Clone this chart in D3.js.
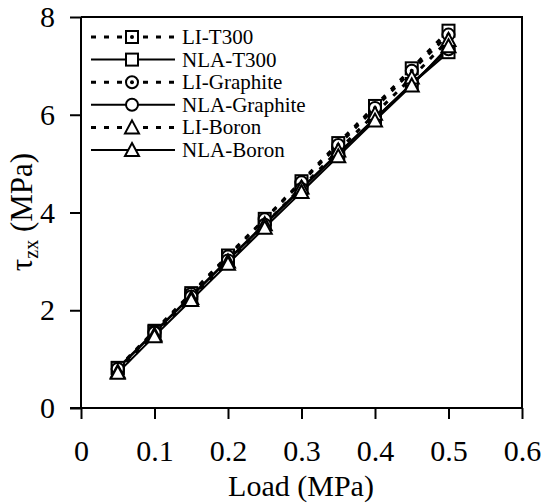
<!DOCTYPE html>
<html>
<head>
<meta charset="utf-8">
<script src="https://cdn.jsdelivr.net/npm/d3@7"></script>
<style>
  body { margin: 0; background: #fff; }
  text { font-family: "Liberation Serif", "DejaVu Serif", serif; fill: #000; }
</style>
</head>
<body>
<svg width="544" height="503"></svg>
<script>
// data
var loads = [0.05, 0.1, 0.15, 0.2, 0.25, 0.3, 0.35, 0.4, 0.45, 0.5]
var liT300 = [0.82, 1.58, 2.35, 3.12, 3.87, 4.64, 5.42, 6.18, 6.95, 7.72]
var nlaT300 = [0.82, 1.56, 2.30, 3.04, 3.77, 4.50, 5.22, 5.93, 6.63, 7.28]
var liGraphite = [0.80, 1.56, 2.33, 3.10, 3.86, 4.62, 5.38, 6.14, 6.90, 7.64]
var nlaGraphite = [0.80, 1.54, 2.28, 3.02, 3.75, 4.48, 5.20, 5.92, 6.64, 7.34]
var liBoron = [0.74, 1.50, 2.25, 3.00, 3.76, 4.51, 5.27, 6.02, 6.76, 7.53]
var nlaBoron = [0.72, 1.47, 2.21, 2.95, 3.69, 4.42, 5.15, 5.88, 6.60, 7.40]
var seriesNames = ['LI-T300', 'NLA-T300', 'LI-Graphite', 'NLA-Graphite', 'LI-Boron', 'NLA-Boron']
var xTicks = [0, 0.1, 0.2, 0.3, 0.4, 0.5, 0.6]
var yTicks = [0, 2, 4, 6, 8]

var series = [
    {name: seriesNames[0], values: liT300, shape: 'square', dashed: true},
    {name: seriesNames[1], values: nlaT300, shape: 'square', dashed: false},
    {name: seriesNames[2], values: liGraphite, shape: 'circle', dashed: true},
    {name: seriesNames[3], values: nlaGraphite, shape: 'circle', dashed: false},
    {name: seriesNames[4], values: liBoron, shape: 'triangle', dashed: true},
    {name: seriesNames[5], values: nlaBoron, shape: 'triangle', dashed: false}
]

var svg = d3.select('svg')
var pLeft = 81, pRight = 522, pTop = 17, pBottom = 408

var x = d3.scaleLinear().domain([0, 0.6]).range([pLeft, pRight])
var y = d3.scaleLinear().domain([0, 8]).range([pBottom, pTop])

// frame (top + right)
svg.append('path')
    .attr('d', 'M' + pLeft + ',' + pTop + 'H' + pRight + 'V' + pBottom)
    .attr('fill', 'none')
    .attr('stroke', '#000')
    .attr('stroke-width', 2)

// axes
var xAxis = svg.append('g')
    .attr('transform', 'translate(0,' + pBottom + ')')
    .call(d3.axisBottom(x).tickValues(xTicks).tickSize(11).tickPadding(21)
        .tickFormat(function(d) { return d === 0 ? '0' : d3.format('.1f')(d) }))
var yAxis = svg.append('g')
    .attr('transform', 'translate(' + pLeft + ',0)')
    .call(d3.axisLeft(y).tickValues(yTicks).tickSize(11).tickPadding(15).tickFormat(d3.format('d')))

;[xAxis, yAxis].forEach(function(a) {
    a.select('.domain').attr('stroke', '#000').attr('stroke-width', 2)
    a.selectAll('.tick line').attr('stroke', '#000').attr('stroke-width', 2)
    a.selectAll('.tick text')
        .attr('font-size', 30)
        .style('font-family', '"Liberation Serif", serif')
        .attr('fill', '#000')
})
// plain axis lines (no outer ticks)
xAxis.select('.domain').attr('d', 'M' + (pLeft - 11) + ',0H' + pRight)
yAxis.select('.domain').attr('d', 'M0,' + pTop + 'V' + pBottom)

// axis titles
svg.append('text')
    .attr('x', 301).attr('y', 496)
    .attr('text-anchor', 'middle')
    .attr('font-size', 30)
    .text('Load (MPa)')

var yt = svg.append('text')
    .attr('transform', 'translate(32,212) rotate(-90)')
    .attr('text-anchor', 'middle')
    .attr('font-size', 31)
yt.append('tspan').text('τ')
yt.append('tspan').attr('font-size', 20).attr('dy', 6).text('zx')
yt.append('tspan').attr('dy', -6).text(' (MPa)')

// marker drawing
function marker(g, shape, dot) {
    if (shape === 'square') {
        g.append('rect').attr('x', -6).attr('y', -6).attr('width', 12).attr('height', 12)
    } else if (shape === 'circle') {
        g.append('circle').attr('r', 6)
    } else {
        g.append('path').attr('d', 'M0,-7L7,6H-7Z')
    }
    g.selectAll('rect,circle,path')
        .attr('fill', '#fff').attr('stroke', '#000').attr('stroke-width', 2)
    if (dot && shape !== 'triangle') {
        g.append('circle').attr('r', 2).attr('fill', '#000')
    }
}

var line = d3.line()
    .x(function(d, i) { return x(loads[i]) })
    .y(function(d) { return y(d) })

series.forEach(function(s) {
    svg.append('path')
        .datum(s.values)
        .attr('d', line)
        .attr('fill', 'none')
        .attr('stroke', '#000')
        .attr('stroke-width', s.dashed ? 3 : 2)
        .attr('stroke-dasharray', s.dashed ? '5,8' : null)
})
series.forEach(function(s) {
    s.values.forEach(function(v, i) {
        var g = svg.append('g').attr('transform', 'translate(' + x(loads[i]) + ',' + y(v) + ')')
        marker(g, s.shape, s.dashed)
    })
})

// legend
var legend = svg.append('g')
series.forEach(function(s, i) {
    var ly = 37 + i * 22.6
    var row = legend.append('g').attr('transform', 'translate(0,' + ly + ')')
    row.append('line')
        .attr('x1', 91).attr('x2', 175)
        .attr('stroke', '#000')
        .attr('stroke-width', s.dashed ? 3 : 2)
        .attr('stroke-dasharray', s.dashed ? '5,8' : null)
    var m = row.append('g').attr('transform', 'translate(132,0)')
    marker(m, s.shape, s.dashed)
    row.append('text')
        .attr('x', 182).attr('y', 7)
        .attr('font-size', 21)
        .text(s.name)
})
</script>
</body>
</html>
